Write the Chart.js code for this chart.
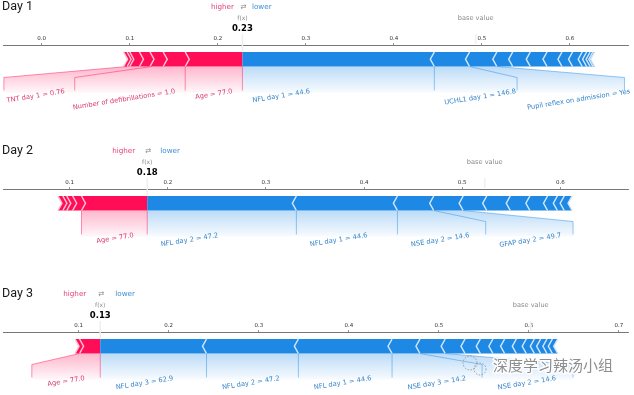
<!DOCTYPE html>
<html>
<head>
<meta charset="utf-8">
<script src="https://cdn.jsdelivr.net/npm/chart.js@4.4.1/dist/chart.umd.min.js"></script>
<style>
  html, body { margin: 0; padding: 0; background: #fff; }
  .panel { position: relative; width: 634px; }
</style>
</head>
<body>
<div class="panel" style="height:144px"><canvas id="day1"></canvas></div>
<div class="panel" style="height:143px"><canvas id="day2"></canvas></div>
<div class="panel" style="height:108px"><canvas id="day3"></canvas></div>
<script>
// Force plots for three days
const dayNames = ['Day 1', 'Day 2', 'Day 3'];
const fxValues = [0.228, 0.179, 0.124];
const fxLabels = ['0.23', '0.18', '0.13'];
const baseValues = [0.493, 0.523, 0.602];
const axisRanges = [[-0.044, 0.666], [0.032, 0.669], [0.016, 0.71]];
const tickValues = [
    [0.0, 0.1, 0.2, 0.3, 0.4, 0.5, 0.6],
    [0.1, 0.2, 0.3, 0.4, 0.5, 0.6],
    [0.1, 0.2, 0.3, 0.4, 0.5, 0.6, 0.7]
];

// segment edges pushing higher (left tail -> f(x))
const redEdges = [
    [0.093, 0.097, 0.100, 0.111, 0.123, 0.138, 0.163, 0.228],
    [0.088, 0.093, 0.097, 0.103, 0.112, 0.179],
    [0.096, 0.101, 0.124]
];
// segment edges pushing lower (f(x) -> right tail)
const blueEdges = [
    [0.228, 0.446, 0.486, 0.517, 0.535, 0.555, 0.574, 0.591, 0.603, 0.614, 0.619, 0.623, 0.626, 0.628],
    [0.179, 0.331, 0.434, 0.471, 0.501, 0.525, 0.549, 0.569, 0.587, 0.597, 0.604, 0.612],
    [0.124, 0.242, 0.344, 0.448, 0.479, 0.507, 0.529, 0.546, 0.560, 0.573, 0.586, 0.597, 0.606, 0.613, 0.620, 0.626, 0.632]
];

// labels: text, value where the connector leaves the bar, value where it meets the text
const redLabels = [
    [
        { text: 'Age = 77.0', at: 0.163, box: 0.163 },
        { text: 'Number of defibrillations = 1.0', at: 0.125, box: 0.0375 },
        { text: 'TNT day 1 = 0.76', at: 0.097, box: -0.043 }
    ],
    [
        { text: 'Age = 77.0', at: 0.112, box: 0.112 }
    ],
    [
        { text: 'Age = 77.0', at: 0.101, box: 0.048 }
    ]
];
const blueLabels = [
    [
        { text: 'NFL day 1 = 44.6', at: 0.446, box: 0.446 },
        { text: 'UCHL1 day 1 = 146.8', at: 0.486, box: 0.540 },
        { text: 'Pupil reflex on admission = Yes', at: 0.517, box: 0.662 }
    ],
    [
        { text: 'NFL day 2 = 47.2', at: 0.331, box: 0.331 },
        { text: 'NFL day 1 = 44.6', at: 0.434, box: 0.434 },
        { text: 'NSE day 2 = 14.6', at: 0.471, box: 0.524 },
        { text: 'GFAP day 2 = 49.7', at: 0.501, box: 0.613 }
    ],
    [
        { text: 'NFL day 3 = 62.9', at: 0.242, box: 0.242 },
        { text: 'NFL day 2 = 47.2', at: 0.344, box: 0.344 },
        { text: 'NFL day 1 = 44.6', at: 0.448, box: 0.448 },
        { text: 'NSE day 3 = 14.2', at: 0.479, box: 0.548 },
        { text: 'NSE day 2 = 14.6', at: 0.507, box: 0.649 }
    ]
];

// styles
const RED = '#FF0D57', RED_SEP = '#FFC3D5', RED_TEXT = '#d93a72', RED_LINE = 'rgba(255,13,87,0.5)';
const BLUE = '#1E88E5', BLUE_SEP = '#D1E6FA', BLUE_TEXT = '#3585cc', BLUE_LINE = 'rgba(30,136,229,0.5)';
const LABEL_GAP = [9.5, 13, 15];
const ROT = 9 * Math.PI / 180;
const LABEL_SIZE = 6.7;
const FONT = '"DejaVu Sans"';

function poly(ctx, pts) {
    ctx.beginPath();
    ctx.moveTo(pts[0][0], pts[0][1]);
    for (let i = 1; i < pts.length; i++) ctx.lineTo(pts[i][0], pts[i][1]);
}

function drawLabel(ctx, text, ax, yTop, isBlue, color) {
    const w = ctx.measureText(text).width;
    const h = LABEL_SIZE * 1.1;
    const s = Math.sin(ROT), c = Math.cos(ROT);
    const blx = isBlue ? ax + h * s : ax - w * c;
    const bly = yTop + w * s + h * c;
    ctx.save();
    ctx.translate(blx, bly);
    ctx.rotate(-ROT);
    ctx.fillStyle = color;
    ctx.textAlign = 'left';
    ctx.textBaseline = 'bottom';
    ctx.fillText(text, 0, 0);
    ctx.restore();
}

function shade(ctx, pts, y0, y1, rgb) {
    const g = ctx.createLinearGradient(0, y0, 0, y1);
    g.addColorStop(0, `rgba(${rgb},0.30)`);
    g.addColorStop(1, `rgba(${rgb},0.03)`);
    poly(ctx, pts);
    ctx.closePath();
    ctx.fillStyle = g;
    ctx.fill();
}

function forcePlot(d) {
    return {
        id: 'forcePlot',
        afterDraw(chart) {
            const ctx = chart.ctx;
            const sx = chart.scales.x;
            const px = v => sx.getPixelForValue(v);
            const axisY = chart.chartArea.top;
            const top = axisY + 7, bot = axisY + 21.5, mid = (top + bot) / 2, ind = 4;
            const knee = bot + 11, lineEnd = bot + 24, textTop = bot + 21, shadeEnd = bot + 26;
            const fx = px(fxValues[d]);
            const gap = LABEL_GAP[d];
            const reds = redEdges[d].map(px);
            const blues = blueEdges[d].map(px);
            const rl = redLabels[d], bl = blueLabels[d];

            ctx.save();

            // shading under the bars
            const lr = rl[rl.length - 1];
            shade(ctx, [[fx, bot], [px(lr.at), bot], [px(lr.box), knee], [px(lr.box), shadeEnd], [fx, shadeEnd]], bot, shadeEnd, '255,13,87');
            const lb = bl[bl.length - 1];
            shade(ctx, [[fx, bot], [px(lb.at), bot], [px(lb.box), knee], [px(lb.box), shadeEnd], [fx, shadeEnd]], bot, shadeEnd, '30,136,229');

            // red segments
            ctx.fillStyle = RED;
            for (let i = 0; i < reds.length - 1; i++) {
                const a = reds[i], b = reds[i + 1];
                const pts = [[a, top], [b, top]];
                if (i < reds.length - 2) pts.push([b + ind, mid]);
                pts.push([b, bot], [a, bot], [a + ind, mid]);
                poly(ctx, pts); ctx.closePath(); ctx.fill();
            }
            // blue segments
            ctx.fillStyle = BLUE;
            for (let i = 0; i < blues.length - 1; i++) {
                const a = blues[i], b = blues[i + 1];
                const pts = [[a, top], [b, top], [b - ind, mid], [b, bot], [a, bot]];
                if (i > 0) pts.push([a - ind, mid]);
                poly(ctx, pts); ctx.closePath(); ctx.fill();
            }
            // separators
            ctx.lineWidth = 1.5;
            ctx.lineJoin = 'miter';
            ctx.strokeStyle = RED_SEP;
            for (let i = 0; i < reds.length - 1; i++) {
                poly(ctx, [[reds[i], top], [reds[i] + ind, mid], [reds[i], bot]]); ctx.stroke();
            }
            ctx.strokeStyle = BLUE_SEP;
            for (let i = 1; i < blues.length; i++) {
                poly(ctx, [[blues[i], top], [blues[i] - ind, mid], [blues[i], bot]]); ctx.stroke();
            }

            // faint guide lines for f(x) and base value
            ctx.strokeStyle = '#efefef';
            ctx.lineWidth = 1.5;
            poly(ctx, [[fx, axisY - 11], [fx, top]]); ctx.stroke();
            poly(ctx, [[px(baseValues[d]), axisY - 11], [px(baseValues[d]), axisY - 1]]); ctx.stroke();

            // connectors
            ctx.lineWidth = 0.9;
            ctx.strokeStyle = RED_LINE;
            poly(ctx, [[fx, bot], [fx, lineEnd]]); ctx.stroke();
            rl.forEach(l => {
                const a = px(l.at), b = px(l.box);
                poly(ctx, a === b ? [[a, bot], [a, lineEnd]] : [[a, bot], [b, knee], [b, lineEnd]]);
                ctx.stroke();
            });
            ctx.strokeStyle = BLUE_LINE;
            bl.forEach(l => {
                const a = px(l.at), b = px(l.box);
                poly(ctx, a === b ? [[a, bot], [a, lineEnd]] : [[a, bot], [b, knee], [b, lineEnd]]);
                ctx.stroke();
            });

            // feature labels
            ctx.font = `${LABEL_SIZE}px ${FONT}`;
            let start = fx;
            rl.forEach(l => { drawLabel(ctx, l.text, start - gap, textTop, false, RED_TEXT); start = px(l.box); });
            start = fx;
            bl.forEach(l => { drawLabel(ctx, l.text, start + gap, textTop, true, BLUE_TEXT); start = px(l.box); });

            // header texts
            ctx.textBaseline = 'middle';
            ctx.textAlign = 'left';
            ctx.fillStyle = '#1a1a1a';
            ctx.font = '12.5px Roboto';
            ctx.fillText(dayNames[d], 2, 7);

            ctx.font = `7.2px ${FONT}`;
            ctx.textAlign = 'right';
            ctx.fillStyle = '#e5417a';
            ctx.fillText('higher', fx - gap + 1, 7);
            ctx.textAlign = 'center';
            ctx.fillStyle = '#888';
            ctx.fillText('\u21c4', fx + 1, 7);
            ctx.textAlign = 'left';
            ctx.fillStyle = '#3a8ed8';
            ctx.fillText('lower', fx + gap, 7);

            ctx.textAlign = 'center';
            ctx.fillStyle = '#8a8a8a';
            ctx.font = `6px ${FONT}`;
            ctx.fillText('f(x)', fx, 18);
            ctx.font = `6.6px ${FONT}`;
            ctx.fillText('base value', px(baseValues[d]), 18);
            ctx.fillStyle = '#000';
            ctx.font = `bold 8.5px ${FONT}`;
            ctx.fillText(fxLabels[d], fx, 29);

            // watermark on the last panel
            if (d === 2) {
                ctx.font = '15px "Noto Sans CJK SC"';
                ctx.textAlign = 'left';
                ctx.lineWidth = 3;
                ctx.strokeStyle = 'rgba(255,255,255,0.9)';
                ctx.strokeText('深度学习辣汤小组', 493, 78);
                ctx.fillStyle = '#8e8e8e';
                ctx.fillText('深度学习辣汤小组', 493, 78);
                ctx.setLineDash([1.5, 1.5]);
                ctx.lineWidth = 1;
                ctx.strokeStyle = '#9a9a9a';
                ctx.beginPath(); ctx.arc(470, 76, 7, 0, Math.PI * 2); ctx.stroke();
                ctx.beginPath(); ctx.arc(480, 82, 6, 0, Math.PI * 2); ctx.stroke();
                ctx.setLineDash([]);
            }
            ctx.restore();
        }
    };
}

function makeChart(d) {
    return new Chart(document.getElementById('day' + (d + 1)), {
        type: 'scatter',
        data: { datasets: [] },
        options: {
            responsive: true,
            maintainAspectRatio: false,
            animation: false,
            events: [],
            layout: { padding: { left: 3, right: 6, top: 0, bottom: 0 } },
            plugins: { legend: { display: false }, tooltip: { enabled: false } },
            scales: {
                x: {
                    type: 'linear',
                    position: 'top',
                    min: axisRanges[d][0],
                    max: axisRanges[d][1],
                    afterBuildTicks: s => { s.ticks = tickValues[d].map(v => ({ value: v })); },
                    afterFit: s => { s.height = 45; },
                    grid: { drawOnChartArea: false, drawTicks: true, tickLength: 2, color: '#777', lineWidth: 0.8 },
                    border: { display: true, color: '#777', width: 1 },
                    ticks: {
                        color: '#333',
                        padding: 1,
                        maxRotation: 0,
                        autoSkip: false,
                        font: { family: 'DejaVu Sans', size: 5.5 },
                        callback: v => v.toFixed(1)
                    }
                },
                y: { display: false, min: 0, max: 1 }
            }
        },
        plugins: [forcePlot(d)]
    });
}

dayNames.forEach((_, d) => makeChart(d));
</script>
</body>
</html>
